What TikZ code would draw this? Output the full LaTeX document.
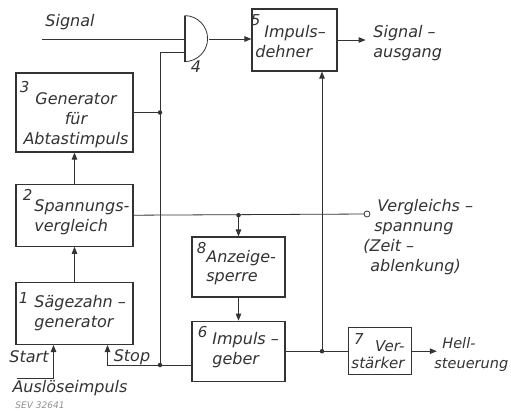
\documentclass[tikz,border=0pt]{standalone}
\usepackage{fontspec}
\setmainfont{DejaVu Sans}
\usetikzlibrary{positioning,arrows.meta}

\definecolor{ink}{HTML}{333333}

\begin{document}
\begin{tikzpicture}[
  x=1pt, y=-1pt,
  box/.style={draw=ink, line width=1.2pt, inner sep=0pt},
  txt/.style={text=ink, font=\itshape\fontsize{16}{20}\selectfont, align=left, inner sep=0pt},
  num/.style={text=ink, font=\itshape\fontsize{15}{15}\selectfont, inner sep=0pt, anchor=north west},
  dot/.style={circle, fill=ink, inner sep=0pt, minimum size=4.5pt},
  ring/.style={circle, draw=ink, fill=white, line width=0.8pt, inner sep=0pt, minimum size=6pt},
  >={Triangle[length=7pt,width=5.5pt]}, line width=0.8pt, draw=ink]
  \useasboundingbox (0,0) rectangle (511,410);

  % left column
  \node[box, minimum width=117pt, minimum height=79pt] (b3) at (74.5,112.5) {};
  \node[box, minimum width=117pt, minimum height=62pt, below=31pt of b3] (b2) {};
  \node[box, minimum width=117pt, minimum height=62pt, below=35pt of b2] (b1) {};
  % middle column
  \node[box, minimum width=85pt, minimum height=62pt] (b5) at (294.5,40) {};
  \node[box, minimum width=93pt, minimum height=60pt] (b8) at (238.5,267) {};
  \node[box, minimum width=93pt, minimum height=60pt, below=23pt of b8] (b6) {};
  \node[box, minimum width=63pt, minimum height=47pt, right=62pt of b6] (b7) {};
  % und-gatter
  \node[minimum width=24pt, minimum height=46pt, inner sep=0pt] (g4) at (197,39) {};
  \draw (g4.north west) arc[start angle=90, end angle=-90, radius=23pt];
  \draw[line width=2pt] (g4.south west) -- (g4.north west);

  % box texts
  \node[txt, align=center] (t3) at (76,120) {Generator\\für\\Abtastimpuls};
  \node[txt, anchor=west] (t2) at (34,217) {Spannungs-\\vergleich};
  \node[txt, anchor=west] (t1) at (34,313) {Sägezahn –\\generator};
  \node[txt, anchor=west] (t5) at (255,42) {\hspace{9pt}Impuls–\\dehner};
  \node[txt, anchor=west, font=\itshape\fontsize{16}{19}\selectfont] (t8) at (206,267.5) {Anzeige-\\sperre};
  \node[txt, anchor=west] (t6) at (212,350) {Impuls –\\geber};
  \node[txt, anchor=east, align=right, font=\itshape\fontsize{15}{17}\selectfont] (t7) at (405,354.5) {Ver-\\stärker};
  \node[num] (n3) at ([shift={(4,9)}]b3.north west) {3};
  \node[num] (n2) at ([shift={(7,5)}]b2.north west) {2};
  \node[num] (n1) at ([shift={(3,10)}]b1.north west) {1};
  \node[num] (n5) at ([shift={(-1,6)}]b5.north west) {5};
  \node[num] (n8) at ([shift={(5,6)}]b8.north west) {8};
  \node[num] (n6) at ([shift={(6,5)}]b6.north west) {6};
  \node[num] (n7) at ([shift={(6,6)}]b7.north west) {7};

  % outside labels
  \node[txt] (lsig) at (70,22) {Signal};
  \node[txt] (l4) at (196,67) {4};
  \node[txt, anchor=west] (lsa) at (373,43) {Signal –\\ausgang};
  \node[txt, anchor=west] (lvgl) at (363,237) {\hspace{14pt}Vergleichs –\\\hspace{11pt}spannung\\(Zeit –\\\hspace{7pt}ablenkung)};
  \node[txt, anchor=west, font=\itshape\fontsize{14.5}{20}\selectfont] (lhell) at (434,354) {\hspace{8pt}Hell-\\steuerung};
  \node[txt] (lstart) at (29,357) {Start};
  \node[txt] (lstop) at (132,357) {Stop};
  \node[txt] (lausl) at (70,388) {Auslöseimpuls};
  \node[text=ink!55, font=\itshape\fontsize{9}{9}\selectfont, inner sep=0pt] (lsev) at (40,405) {SEV 32641};

  % connectors
  \coordinate (sig) at (42,39);
  \coordinate (in4) at ([yshift=-13pt]g4.west);
  \coordinate (bus) at (160,0);
  \coordinate (j6) at (160,365);
  \coordinate (trig) at (17,378);
  \coordinate (vgl) at (367,214);
  \coordinate[right=28pt of b5.east] (sa);
  \coordinate[right=25pt of b7.east] (hell);
  \coordinate (j7) at ([xshift=27.5pt]b5.south |- b6.east);
  \draw[->] (b1) -- (b2);
  \draw[->] (b2) -- (b3);
  \draw (sig) -- (g4.west);
  \draw[->] (g4.east) -- (g4.east -| b5.west);
  \draw[->] (b5.east) -- (sa);
  \draw (in4) -| (j6) -- (j6 -| b6.west);
  \draw (b3.east) -- (bus |- b3.east) node[dot] (j3) {};
  \node[dot] (dj6) at (j6) {};
  \draw[->] (j6) -| ([xshift=33pt]b1.south);
  \draw[->] (trig) -| ([xshift=-21pt]b1.south);
  \draw (b2.east) -- (vgl);
  \node[ring] (rv) at (vgl) {};
  \draw[->] (b8.north |- b2.east) node[dot] (j8) {} -- (b8.north);
  \draw[->] (b8) -- (b6);
  \draw (b6.east) -- (b7.west);
  \node[dot] (dj7) at (j7) {};
  \draw[->] (j7) -- (j7 |- b5.south);
  \draw[->] (b7.east) -- (hell);
\end{tikzpicture}
\end{document}
